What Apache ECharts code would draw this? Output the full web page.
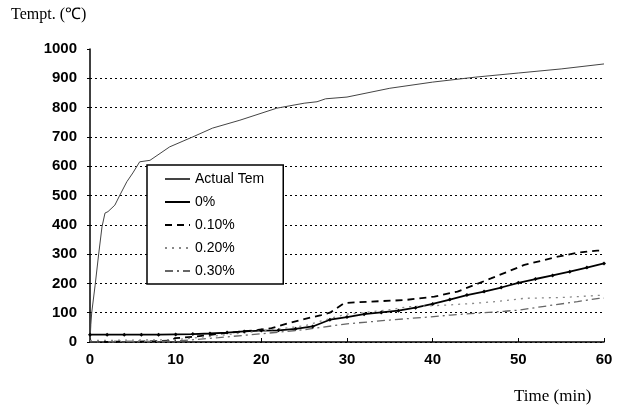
<!DOCTYPE html>
<html><head><meta charset="utf-8">
<script src="https://cdn.jsdelivr.net/npm/echarts@6/dist/echarts.min.js"></script>
<style>html,body{margin:0;padding:0;background:#fff}#c{width:625px;height:409px}</style>
</head><body><div id="c"></div>
<script>
const seriesNames = ['Actual Tem', '0%', '0.10%', '0.20%', '0.30%'];
const xTicks = [0, 10, 20, 30, 40, 50, 60];
const yTicks = [0, 100, 200, 300, 400, 500, 600, 700, 800, 900, 1000];

const actualT = [0, 0.1, 0.2, 0.6, 1.0, 1.4, 1.75, 2.1, 2.9, 3.5, 4.3, 5.0, 5.8, 7, 9.3, 12, 14.3, 17.5, 21.8, 25, 26.5, 27.5, 30, 35, 40, 45, 50, 55, 60];
const actualV = [0, 60, 100, 194, 297, 393, 440, 445, 467, 502, 547, 577, 615, 620, 666, 700, 730, 757, 798, 815, 820, 830, 836, 866, 887, 904, 918, 932, 949];

const p0T = [0, 2, 4, 6, 8, 10, 12, 14, 16, 18, 20, 22, 24, 26, 28, 30, 32, 34, 36, 38, 40, 42, 44, 46, 48, 50, 52, 54, 56, 58, 60];
const p0V = [25, 25, 25, 25, 25, 26, 27, 29, 32, 36, 39, 40, 45, 53, 76, 85, 95, 101, 107, 117, 130, 145, 160, 172, 186, 202, 215, 227, 240, 254, 268];

const p10T = [0, 7, 9.6, 9.9, 12.2, 15.7, 19.6, 21.2, 23.1, 25, 27, 28, 29.7, 32.8, 36.7, 40.2, 42.9, 46.8, 50.7, 54.6, 57, 59.2, 60];
const p10V = [0, 2, 5, 13, 18, 30, 41, 47, 64, 78, 92, 100, 133, 138, 143, 155, 172, 217, 263, 291, 305, 312, 312];

const p20T = [0, 10, 15, 20, 25, 28, 30, 35, 37, 41.6, 44.9, 47.4, 50.7, 55.1, 60];
const p20V = [5, 8, 22, 38, 55, 80, 95, 110, 120, 126, 132, 138, 149, 152, 160];

const p30T = [0, 10, 15, 20, 25, 30, 35, 39.8, 42.1, 45, 48.4, 50.1, 52.6, 56.9, 59.4, 60];
const p30V = [0, 3, 15, 28, 42, 62, 75, 86, 92, 98, 105, 109, 120, 138, 149, 150];

const pair = (t, v) => t.map((x, i) => [x, v[i]]);
const FONT = "'Liberation Sans', Arial, sans-serif";
const SERIF = "'Liberation Serif', 'Times New Roman', serif";

const chart = echarts.init(document.getElementById('c'), null, {renderer: 'canvas'});
chart.setOption({
  animation: false,
  backgroundColor: '#fff',
  grid: {left: 90, right: 21, top: 49, bottom: 67},
  xAxis: {
    type: 'value', min: xTicks[0], max: xTicks[xTicks.length - 1], interval: 10,
    axisLine: {onZero: false, lineStyle: {color: '#000', width: 1.5}},
    axisTick: {inside: true, length: 4, lineStyle: {color: '#000'}},
    axisLabel: {color: '#000', fontFamily: FONT, fontSize: 15, margin: 10, fontWeight: 'bold',
                formatter: v => String(v)},
    splitLine: {show: false}
  },
  yAxis: {
    type: 'value', min: yTicks[0], max: yTicks[yTicks.length - 1], interval: 100,
    axisLine: {show: true, lineStyle: {color: '#000', width: 1.5}},
    axisTick: {show: true, length: 3, lineStyle: {color: '#000'}},
    axisLabel: {color: '#000', fontFamily: FONT, fontSize: 15, margin: 13, fontWeight: 'bold',
                formatter: v => String(v)},
    splitLine: {show: true, lineStyle: {color: '#000', type: [2, 3], width: 1}, showMaxLine: false}
  },
  legend: {
    orient: 'vertical', left: 147, top: 165,
    data: seriesNames.map(n => ({name: n, itemStyle: {opacity: 0}})),
    backgroundColor: '#fff', borderColor: '#000', borderWidth: 1.5,
    padding: [7, 19, 6, 17],
    itemWidth: 25, itemHeight: 14, itemGap: 9,
    textStyle: {color: '#000', fontFamily: FONT, fontSize: 14}
  },
  graphic: [
    {type: 'text', left: 11, top: 7, style: {text: 'Tempt. (℃)', font: "16px " + SERIF, fill: '#000'}},
    {type: 'text', left: 514, top: 388, style: {text: 'Time (min)', font: "17px " + SERIF, fill: '#000'}}
  ],
  series: [
    {name: seriesNames[0], type: 'line', data: pair(actualT, actualV), showSymbol: false,
     lineStyle: {color: '#444', width: 1}, itemStyle: {color: '#444'}},
    {name: seriesNames[1], type: 'line', data: pair(p0T, p0V), symbol: 'diamond', symbolSize: 4,
     lineStyle: {color: '#000', width: 1.8}, itemStyle: {color: '#000'}},
    {name: seriesNames[2], type: 'line', data: pair(p10T, p10V), showSymbol: false,
     lineStyle: {color: '#000', width: 1.8, type: [7, 5]}, itemStyle: {color: '#000'}},
    {name: seriesNames[3], type: 'line', data: pair(p20T, p20V), showSymbol: false,
     lineStyle: {color: '#888', width: 1.3, type: [2, 5]}, itemStyle: {color: '#888'}},
    {name: seriesNames[4], type: 'line', data: pair(p30T, p30V), showSymbol: false,
     lineStyle: {color: '#666', width: 1.3, type: [8, 4, 2, 4]}, itemStyle: {color: '#666'}}
  ]
});
</script></body></html>
